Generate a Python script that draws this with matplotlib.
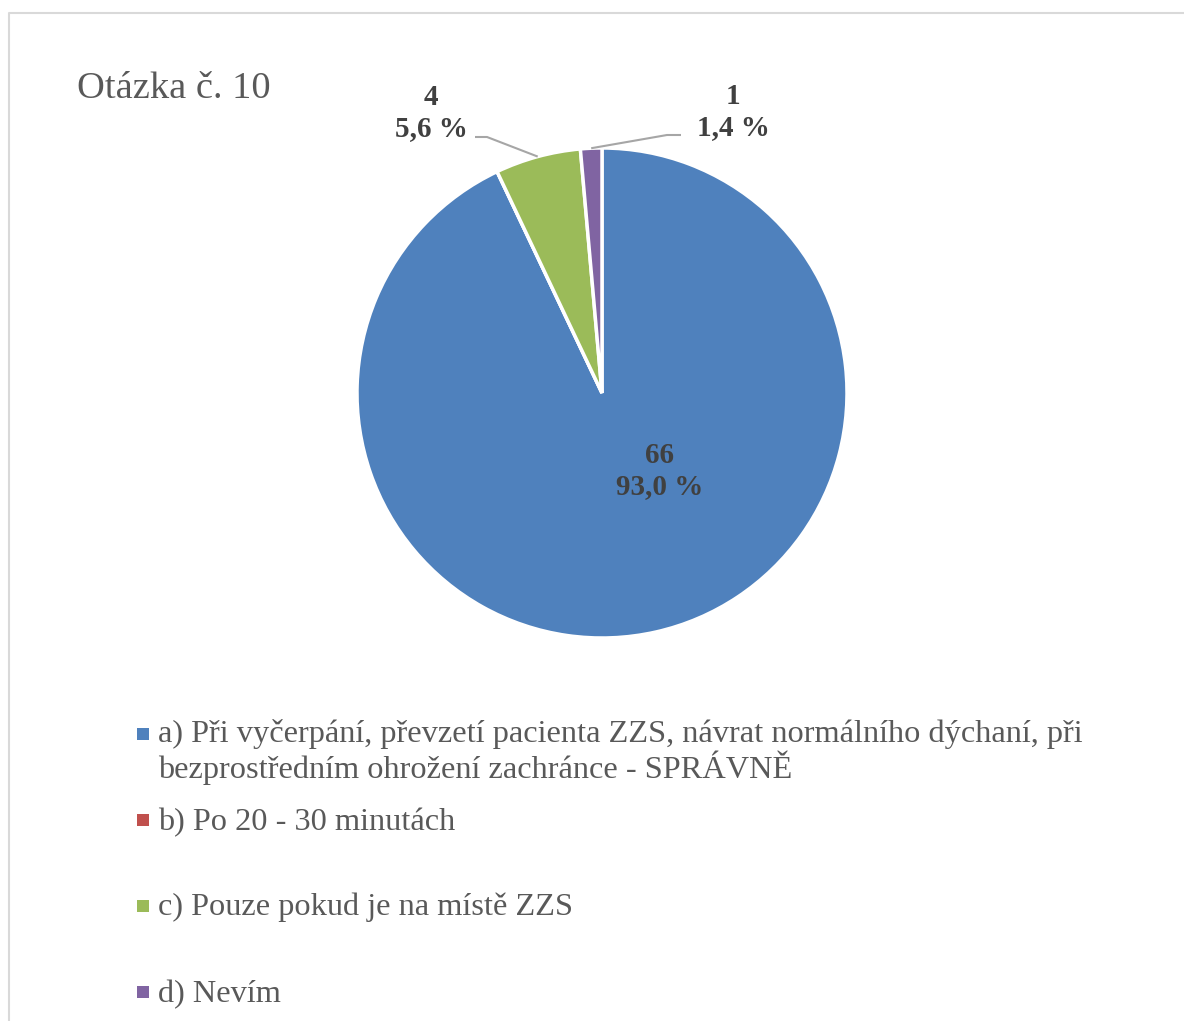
import matplotlib

matplotlib.use("Agg")
import matplotlib.pyplot as plt
import numpy as np
from matplotlib.patches import Rectangle

plt.rcParams["font.family"] = ["Liberation Serif", "DejaVu Serif"]

# survey answers for question 10
answers = [
    "a) Při vyčerpání, převzetí pacienta ZZS, návrat normálního dýchaní, při\nbezprostředním ohrožení zachránce - SPRÁVNĚ",
    "b) Po 20 - 30 minutách",
    "c) Pouze pokud je na místě ZZS",
    "d) Nevím",
]
counts = [66, 0, 4, 1]
colors = ["#4F81BD", "#C0504D", "#9BBB59", "#8064A2"]
title = "Otázka č. 10"

W, H = 1184, 1021
fig = plt.figure(figsize=(W / 100, H / 100), dpi=100)
ax = fig.add_axes([0, 0, 1, 1])


def px(x, y):
    # pixel position (top-left origin) -> data coords
    return x, H - y


cx, cy = px(602, 393)
R = 245
wedges, _ = ax.pie(counts, colors=colors, startangle=90, counterclock=False,
                   center=(cx, cy), radius=R,
                   wedgeprops=dict(edgecolor="white", linewidth=2.5))
ax.set_xlim(0, W)
ax.set_ylim(0, H)
ax.set_aspect("equal")
ax.axis("off")

# chart frame (top and left edges visible)
ax.plot([8.5, 8.5, W + 5], [-5, H - 13.5, H - 13.5], color="#D9D9D9", lw=1.5,
        clip_on=False)

ax.text(*px(77, 98), title, fontsize=27.7, color="#595959", va="baseline")

total = sum(counts)


def label_text(n):
    return f"{n}\n{n / total * 100:.1f} %".replace(".", ",")


lab_kw = dict(fontsize=21, fontweight="bold", color="#404040",
              ha="center", va="center", linespacing=1.15)

# inside label for the big slice
ax.text(*px(660, 471), label_text(counts[0]), **lab_kw)

# outside labels with leader lines
outside = [
    (2, (431, 113), (487, 137), (475, 137)),
    (3, (733, 112), (667, 135), (681, 135)),
]
for idx, tpos, elbow, end in outside:
    w = wedges[idx]
    mid = np.deg2rad((w.theta1 + w.theta2) / 2)
    sx, sy = cx + R * np.cos(mid), cy + R * np.sin(mid)
    ex, ey = px(*elbow)
    fx, fy = px(*end)
    ax.plot([sx, ex, fx], [sy, ey, fy], color="#A6A6A6", lw=1.5,
            solid_capstyle="butt")
    ax.text(*px(*tpos), label_text(counts[idx]), **lab_kw)

# legend
baselines = [742, 830, 915, 1002]
square_y = [734, 820, 906, 992]
for lab, col, base, sy in zip(answers, colors, baselines, square_y):
    x0, y0 = px(137, sy + 6)
    ax.add_patch(Rectangle((x0, y0), 12, 12, color=col, lw=0))
    lines = lab.split("\n")
    for k, line in enumerate(lines):
        ax.text(*px(158, base + 36 * k), line, fontsize=23.3, color="#595959",
                va="baseline")

fig.savefig("out.png", dpi=100)
plt.close(fig)
